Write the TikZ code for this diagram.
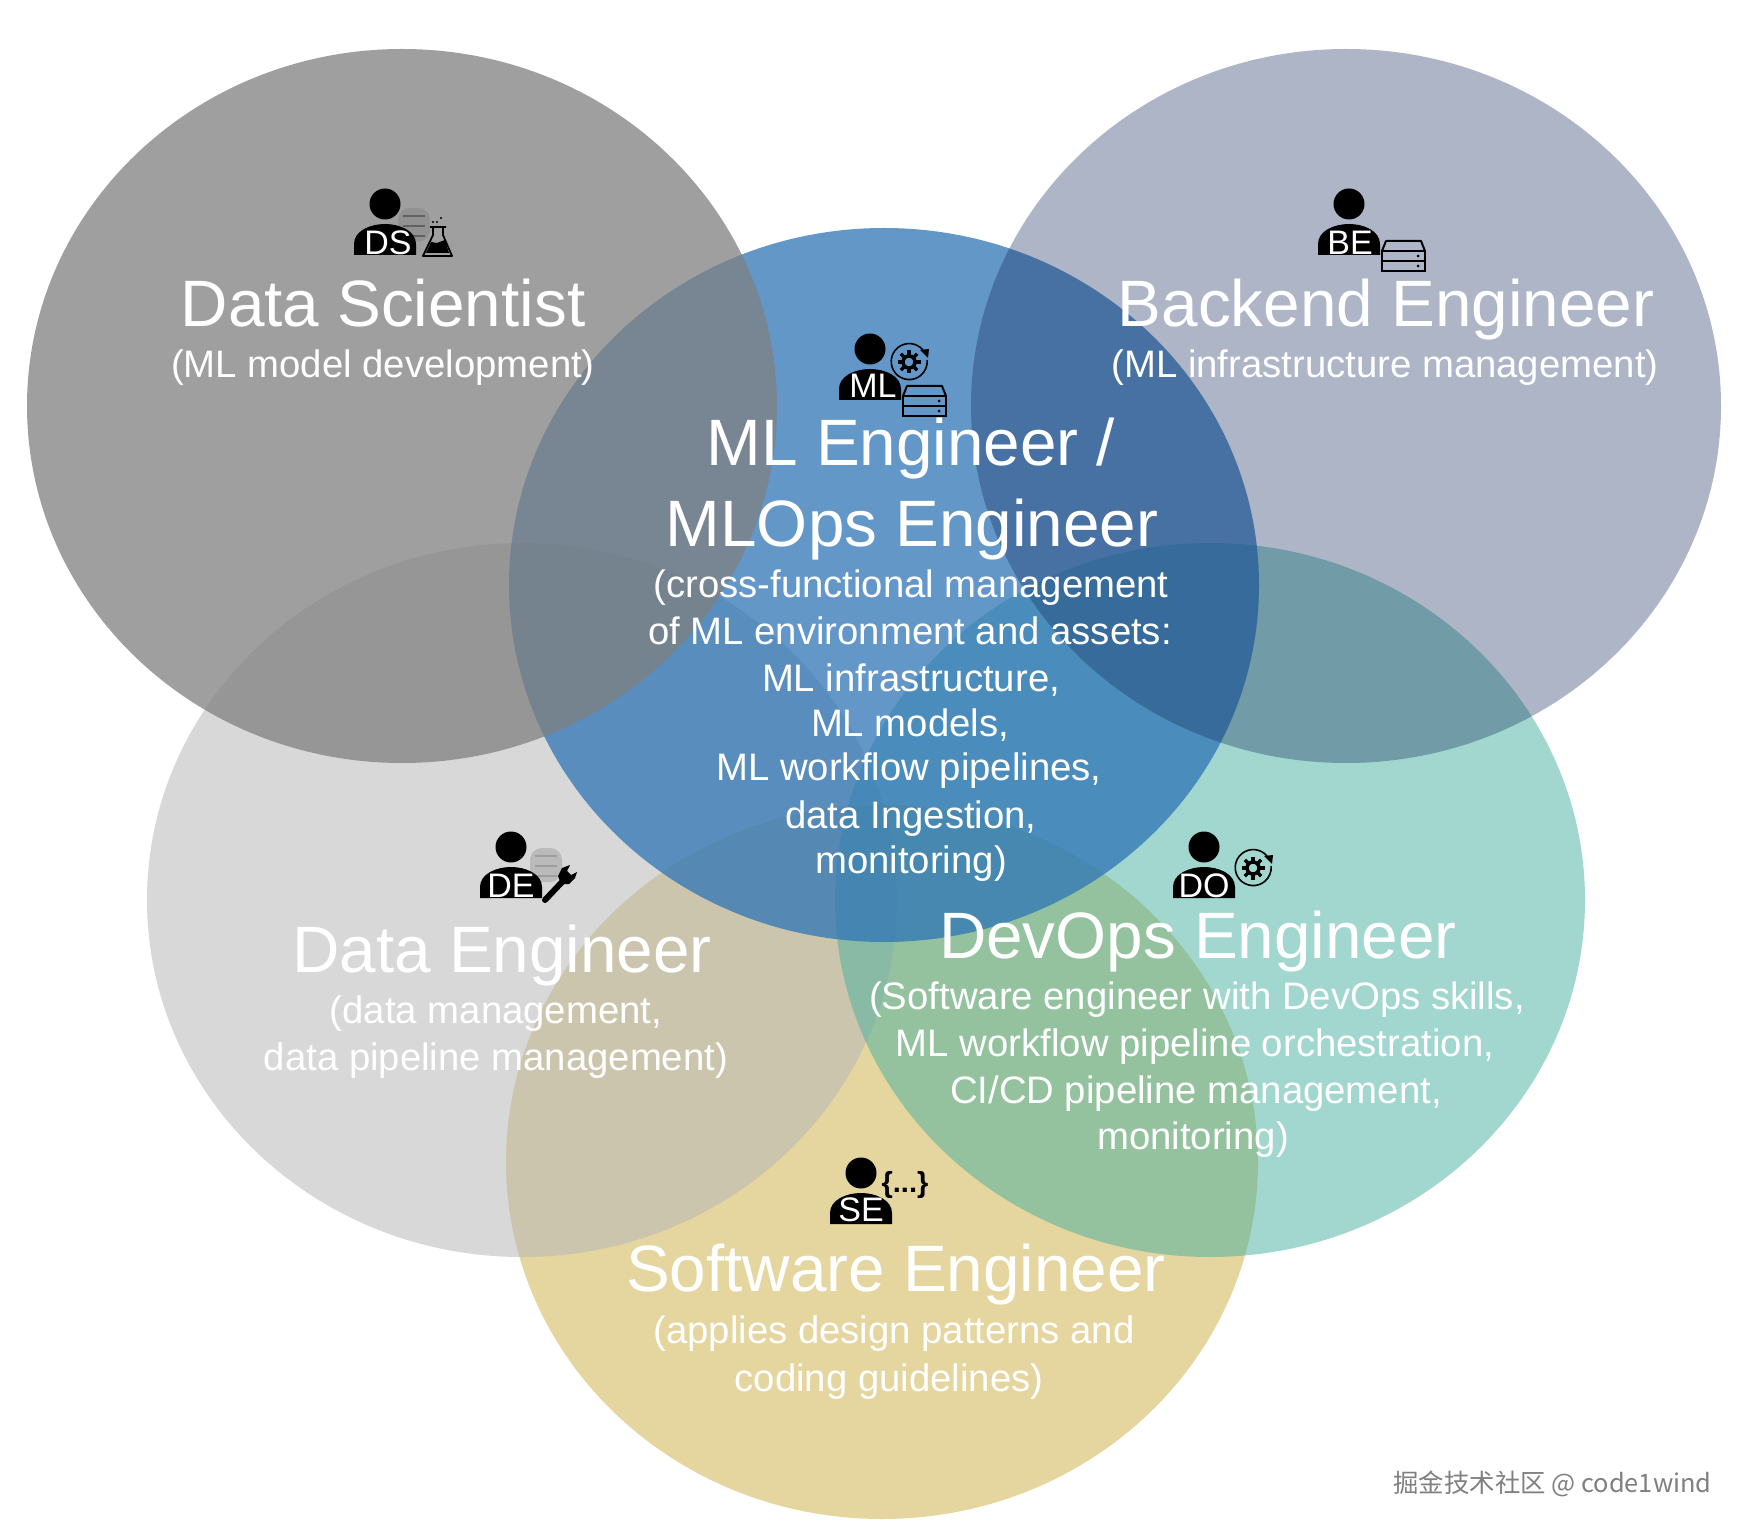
\documentclass[tikz,border=0pt]{standalone}
\usepackage{xcolor}
\usepackage{fontspec}
\setmainfont{Liberation Sans}
\newfontfamily\cjkfont{Noto Sans CJK SC}
\usepackage{tikz}
\definecolor{dscolor}{RGB}{128, 128, 128}
\definecolor{becolor}{RGB}{21, 44, 95}
\definecolor{mlcolor}{RGB}{46, 117, 182}
\definecolor{decolor}{RGB}{185, 185, 185}
\definecolor{docolor}{RGB}{69, 177, 159}
\definecolor{secolor}{RGB}{205, 173, 65}
\tikzset{
    titletext/.style={anchor=base, text=white, font=\fontsize{32.8}{36}\selectfont},
    subtext/.style={anchor=base, text=white, font=\fontsize{19.15}{22}\selectfont},
    icontext/.style={anchor=base, text=white, font=\fontsize{17}{20}\selectfont},
}
\newcommand{\personicon}[6]{
    \fill[black] (#1,#2) circle [radius=15.5];
    \fill[black] (#1-31,#2+51) -- (#1-31,#2+40) .. controls (#1-31,#2+27) and (#1-15,#2+20) .. (#1,#2+20)
        .. controls (#1+15,#2+20) and (#1+31,#2+27) .. (#1+31,#2+40) -- (#1+31,#2+51) -- cycle;
    \node[icontext] (#3) at (#1+#5,#2+#6) {#4};
}
\newcommand{\gearicon}[2]{
    \draw[black, line width=0.8pt] (#1+14,#2-12) arc [start angle=-40, end angle=-365, x radius=18, y radius=18];
    \fill[black] (#1+19,#2-4) -- (#1+11,#2-12) -- (#1+20,#2-13) -- cycle;
    \draw[black, line width=1.7pt] (#1,#2) circle [radius=6];
    \foreach \a in {0,45,...,315}
        \draw[black, line width=1.7pt, shift={(#1,#2)}] (\a:6) -- (\a:11.5);
}
\newcommand{\servericon}[2]{
    \draw[black, line width=1pt, line join=round] (#1,#2+10) -- (#1+4,#2) -- (#1+39,#2) -- (#1+43,#2+10);
    \draw[black, line width=1pt] (#1,#2+10) rectangle (#1+43,#2+20);
    \draw[black, line width=1pt] (#1,#2+20) rectangle (#1+43,#2+30);
    \fill[black] (#1+36,#2+15) circle [radius=1.5];
    \fill[black] (#1+36,#2+25) circle [radius=1.5];
}
\newcommand{\dbicon}[4]{
    \fill[#3, rounded corners=6] (#1,#2) rectangle (#1+32,#2+34);
    \draw[#4, line width=1.2pt] (#1+5,#2+8) -- (#1+27,#2+8);
    \draw[#4, line width=1.2pt] (#1+5,#2+18) -- (#1+27,#2+18);
    \draw[#4, line width=1.2pt] (#1+5,#2+28) -- (#1+27,#2+28);
}
\begin{document}
\begin{tikzpicture}[x=0.5pt, y=-0.5pt]
    \useasboundingbox (0,0) rectangle (1750,1534);
    \fill[white] (0,0) rectangle (1750,1534);
    \fill[secolor, fill opacity=0.5] (882,1162) ellipse [x radius=376, y radius=357];
    \fill[decolor, fill opacity=0.55] (522,900) ellipse [x radius=375, y radius=357];
    \fill[docolor, fill opacity=0.5] (1210,900) ellipse [x radius=375, y radius=357];
    \fill[mlcolor, fill opacity=0.75] (884,585) ellipse [x radius=375, y radius=357];
    \fill[dscolor, fill opacity=0.75] (402,406) ellipse [x radius=375, y radius=357];
    \fill[becolor, fill opacity=0.35] (1346,406) ellipse [x radius=375, y radius=357];

    \dbicon{398}{208}{black!43}{black!62}
    \personicon{385}{204}{dsicon}{DS}{3}{51}
    \draw[black, line width=0.9pt, line join=round] (430,227) -- (446,227) (433,227) -- (433,235) -- (423,256) -- (452,256) -- (443,235) -- (443,227);
    \fill[black] (431,242) -- (437,243) -- (445,240) -- (449,253) -- (426,253) -- cycle;
    \fill[black] (433,222) circle [radius=1.2] (437,222) circle [radius=1.2] (441,218) circle [radius=1.2];

    \personicon{1349}{204}{beicon}{BE}{1}{51}
    \servericon{1382}{241}

    \personicon{870}{349}{mlicon}{ML}{3}{49}
    \gearicon{909}{362}
    \servericon{903}{386}

    \dbicon{530}{848}{black!27}{black!38}
    \personicon{511}{847}{deicon}{DE}{0}{50}
    \draw[black, line width=3pt, line cap=round] (545,900) -- (562,882);
    \fill[black] (570,865) -- (562,868) -- (558,876) -- (561,884) -- (569,884) -- (575,878) -- (577,872) -- (571,875) -- (567,871) -- cycle;

    \personicon{1204}{847}{doicon}{DO}{0}{50}
    \gearicon{1253}{868}

    \personicon{861}{1173}{seicon}{SE}{0}{48}
    \node[anchor=center, text=black, font=\fontsize{14.5}{15}\selectfont\bfseries] (secode) at (905,1185) {\{...\}};

    \node[titletext] (dstitle) at (383,327) {Data Scientist};
    \node[subtext] (dssub) at (383,378) {(ML model development)};

    \node[titletext] (betitle) at (1386,327) {Backend Engineer};
    \node[subtext] (besub) at (1385,378) {(ML infrastructure management)};

    \node[titletext] (mltitlea) at (911,466) {ML Engineer /};
    \node[titletext] (mltitleb) at (912,546) {MLOps Engineer};
    \node[subtext] (mlsuba) at (911,597) {(cross-functional management};
    \node[subtext] (mlsubb) at (910,644) {of ML environment and assets:};
    \node[subtext] (mlsubc) at (911,691) {ML infrastructure,};
    \node[subtext] (mlsubd) at (910,736) {ML models,};
    \node[subtext] (mlsube) at (909,780) {ML workflow pipelines,};
    \node[subtext] (mlsubf) at (911,828) {data Ingestion,};
    \node[subtext] (mlsubg) at (911,873) {monitoring)};

    \node[titletext] (detitle) at (502,972) {Data Engineer};
    \node[subtext] (desuba) at (496,1023) {(data management,};
    \node[subtext] (desubb) at (496,1070) {data pipeline management)};

    \node[titletext] (dotitle) at (1198,958) {DevOps Engineer};
    \node[subtext] (dosuba) at (1197,1009) {(Software engineer with DevOps skills,};
    \node[subtext] (dosubb) at (1195,1056) {ML workflow pipeline orchestration,};
    \node[subtext] (dosubc) at (1196,1103) {CI/CD pipeline management,};
    \node[subtext] (dosubd) at (1193,1149) {monitoring)};

    \node[titletext] (setitle) at (896,1291) {Software Engineer};
    \node[subtext] (sesuba) at (894,1343) {(applies design patterns and};
    \node[subtext] (sesubb) at (889,1391) {coding guidelines)};

    \node[anchor=base east, inner sep=0pt, text=black!50, font=\fontsize{12.7}{15}\selectfont\cjkfont] (mark) at (1712,1492) {掘金技术社区 @ code1wind};
\end{tikzpicture}
\end{document}
